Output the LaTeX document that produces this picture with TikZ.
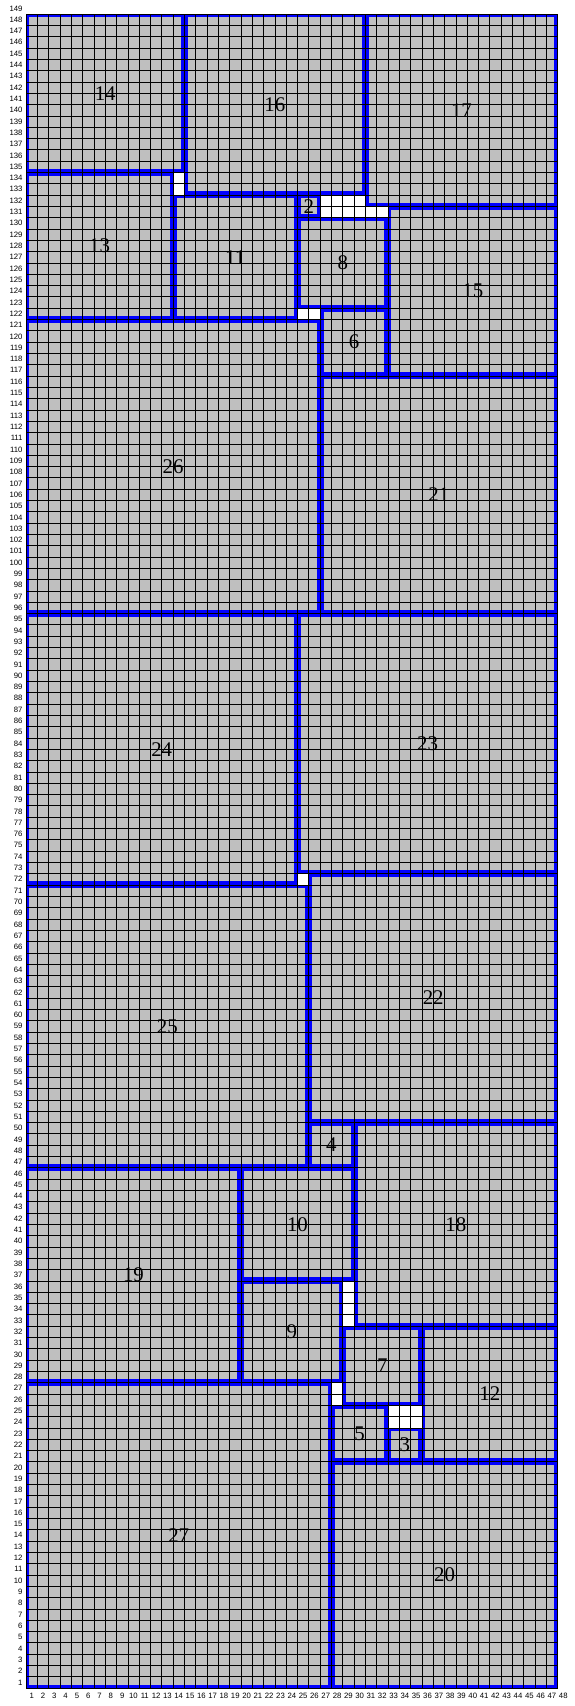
\documentclass[tikz,border=0pt]{standalone}
\usepackage{fontspec}
\setmainfont{Liberation Serif}
\setsansfont{Liberation Sans}
\tikzset{
  room/.style   = {fill=black!25},
  wall/.style   = {draw=blue, line width=3.5pt},
  gridline/.style = {black, line width=0.6pt},
  tag/.style    = {font=\fontsize{21}{21}\selectfont, inner sep=0pt},
  tick/.style   = {font=\sffamily\fontsize{7.8}{8}\selectfont, inner sep=0pt},
}

\begin{document}
\begin{tikzpicture}[x=0.4cm,y=0.4cm]
  \useasboundingbox (-2.30,-1.59) rectangle (48.50,149.24);
  \fill[white] (-2.30,-1.59) rectangle (48.50,149.24);
  % regions: x1/y1/x2/y2/number
  \def\rooms{0/134/14/148/14, 0/121/13/134/13, 13/121/24/132/11, 14/132/30/148/16,
    30/131/47/148/17, 24/130/26/132/2, 24/122/32/130/8, 26/116/32/122/6,
    32/116/47/131/15, 0/95/26/121/26, 26/95/47/116/21, 0/71/24/95/24,
    24/72/47/95/23, 0/46/25/71/25, 25/50/47/72/22, 25/46/29/50/4,
    29/32/47/50/18, 19/36/29/46/10, 0/27/19/46/19, 19/27/28/36/9,
    28/25/35/32/7, 35/20/47/32/12, 27/20/32/25/5, 32/20/35/23/3,
    0/0/27/27/27, 27/0/47/20/20}
  \foreach \xa/\ya/\xb/\yb/\lab in \rooms {
    \fill[room] (\xa,\ya) rectangle (\xb,\yb);
    \draw[wall] ({\xa+0.154},{\ya+0.154}) rectangle ({\xb-0.154},{\yb-0.154});
  }
  % grid
  \foreach \i in {0,...,47} \draw[gridline] (\i,0) -- (\i,148);
  \foreach \j in {0,...,148} \draw[gridline] (0,\j) -- (47,\j);
  % numbers
  \foreach \xa/\ya/\xb/\yb/\lab in \rooms
    \node[tag] (room\lab) at ({(\xa+\xb)/2},{(\ya+\yb)/2}) {\lab};
  % axis ticks
  \foreach \i in {1,...,48}
    \node[tick] (col\i) at ({\i-0.5},-0.68) {\i};
  \foreach \j in {1,...,149}
    \node[tick,anchor=east] (row\j) at (-0.29,{\j-0.5}) {\j};
\end{tikzpicture}
\end{document}
